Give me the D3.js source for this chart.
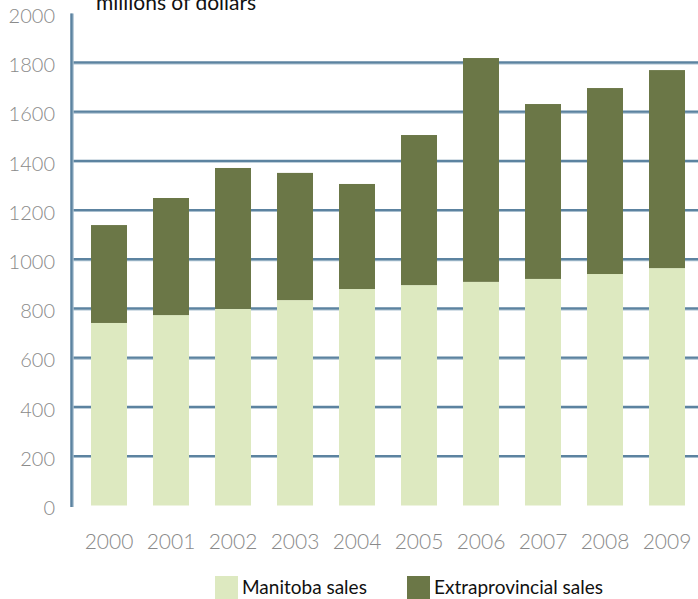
<!DOCTYPE html>
<html>
<head>
<meta charset="utf-8">
<script src="https://cdn.jsdelivr.net/npm/d3@7/dist/d3.min.js"></script>
<style>
  html, body { margin: 0; padding: 0; background: #fff; }
  svg { display: block; }
</style>
</head>
<body>
<svg id="chart" width="698" height="599"></svg>
<script>
// Annual sales, millions of dollars
const years = ["2000","2001","2002","2003","2004","2005","2006","2007","2008","2009"];
const manitobaSales = [742, 774, 799, 835, 880, 896, 909, 921, 941, 965];
const extraprovincialSales = [398, 476, 573, 517, 427, 610, 910, 711, 756, 805];
const yTicks = [0, 200, 400, 600, 800, 1000, 1200, 1400, 1600, 1800, 2000];
const seriesNames = ["Manitoba sales", "Extraprovincial sales"];
const seriesColors = ["#dde9c0", "#6b7747"];

const svg = d3.select("#chart");
const W = 698;
const axisX = 72;

const x = d3.scaleBand()
  .domain(years)
  .range([78, 698])
  .paddingInner(26 / 62)
  .paddingOuter(13 / 62);

const y = d3.scaleLinear()
  .domain([0, 2000])
  .range([505.5, 13.5]);

const font = "Lato, 'Open Sans', sans-serif";

// horizontal gridlines
const grid = svg.append("g");
yTicks.filter(t => t > 0 && t < 2000).forEach(t => {
  grid.append("line")
    .attr("x1", axisX).attr("x2", W)
    .attr("y1", y(t) + 1).attr("y2", y(t) + 1)
    .attr("stroke", "#a9bfcf").attr("stroke-width", 1.5);
  grid.append("line")
    .attr("x1", axisX).attr("x2", W)
    .attr("y1", y(t) - 0.3).attr("y2", y(t) - 0.3)
    .attr("stroke", "#5c83a0").attr("stroke-width", 2.2);
});

// stacked bars
const rows = years.map((yr, i) => ({ year: yr, manitoba: manitobaSales[i], extra: extraprovincialSales[i] }));
const stack = d3.stack().keys(["manitoba", "extra"])(rows);
svg.append("g").selectAll("g")
  .data(stack)
  .join("g")
  .attr("fill", (d, i) => seriesColors[i])
  .selectAll("rect")
  .data(d => d)
  .join("rect")
  .attr("x", d => x(d.data.year))
  .attr("width", x.bandwidth())
  .attr("y", d => y(d[1]))
  .attr("height", d => y(d[0]) - y(d[1]));

// vertical axis line
svg.append("line")
  .attr("x1", axisX).attr("x2", axisX)
  .attr("y1", y(2000)).attr("y2", y(0) + 1.5)
  .attr("stroke", "#a9bfcf").attr("stroke-width", 3.5);
svg.append("line")
  .attr("x1", axisX - 0.5).attr("x2", axisX - 0.5)
  .attr("y1", y(2000)).attr("y2", y(0) + 1.5)
  .attr("stroke", "#5c83a0").attr("stroke-width", 2.2);

// y tick labels
svg.append("g").selectAll("text")
  .data(yTicks)
  .join("text")
  .attr("x", 55)
  .attr("y", d => y(d) + 9.5)
  .attr("text-anchor", "end")
  .attr("font-family", font)
  .attr("font-weight", 300)
  .attr("font-size", 20)
  .attr("fill", "#8a8a8a")
  .text(d => d);

// year labels
svg.append("g").selectAll("text")
  .data(years)
  .join("text")
  .attr("x", d => x(d) + x.bandwidth() / 2)
  .attr("y", 548.5)
  .attr("text-anchor", "middle")
  .attr("font-family", font)
  .attr("font-weight", 300)
  .attr("font-size", 21)
  .attr("fill", "#8a8a8a")
  .text(d => d);

// unit title
svg.append("text")
  .attr("x", 96)
  .attr("y", 10)
  .attr("font-family", font)
  .attr("font-weight", 400)
  .attr("font-size", 21)
  .attr("fill", "#111")
  .text("millions of dollars");

// legend
const legendX = [215, 407];
const legend = svg.append("g");
seriesNames.forEach((name, i) => {
  legend.append("rect")
    .attr("x", legendX[i]).attr("y", 576)
    .attr("width", 23).attr("height", 23)
    .attr("fill", seriesColors[i]);
  legend.append("text")
    .attr("x", legendX[i] + 27)
    .attr("y", 594)
    .attr("font-family", font)
    .attr("font-size", 19)
    .attr("fill", "#111")
    .text(name);
});
</script>
</body>
</html>
